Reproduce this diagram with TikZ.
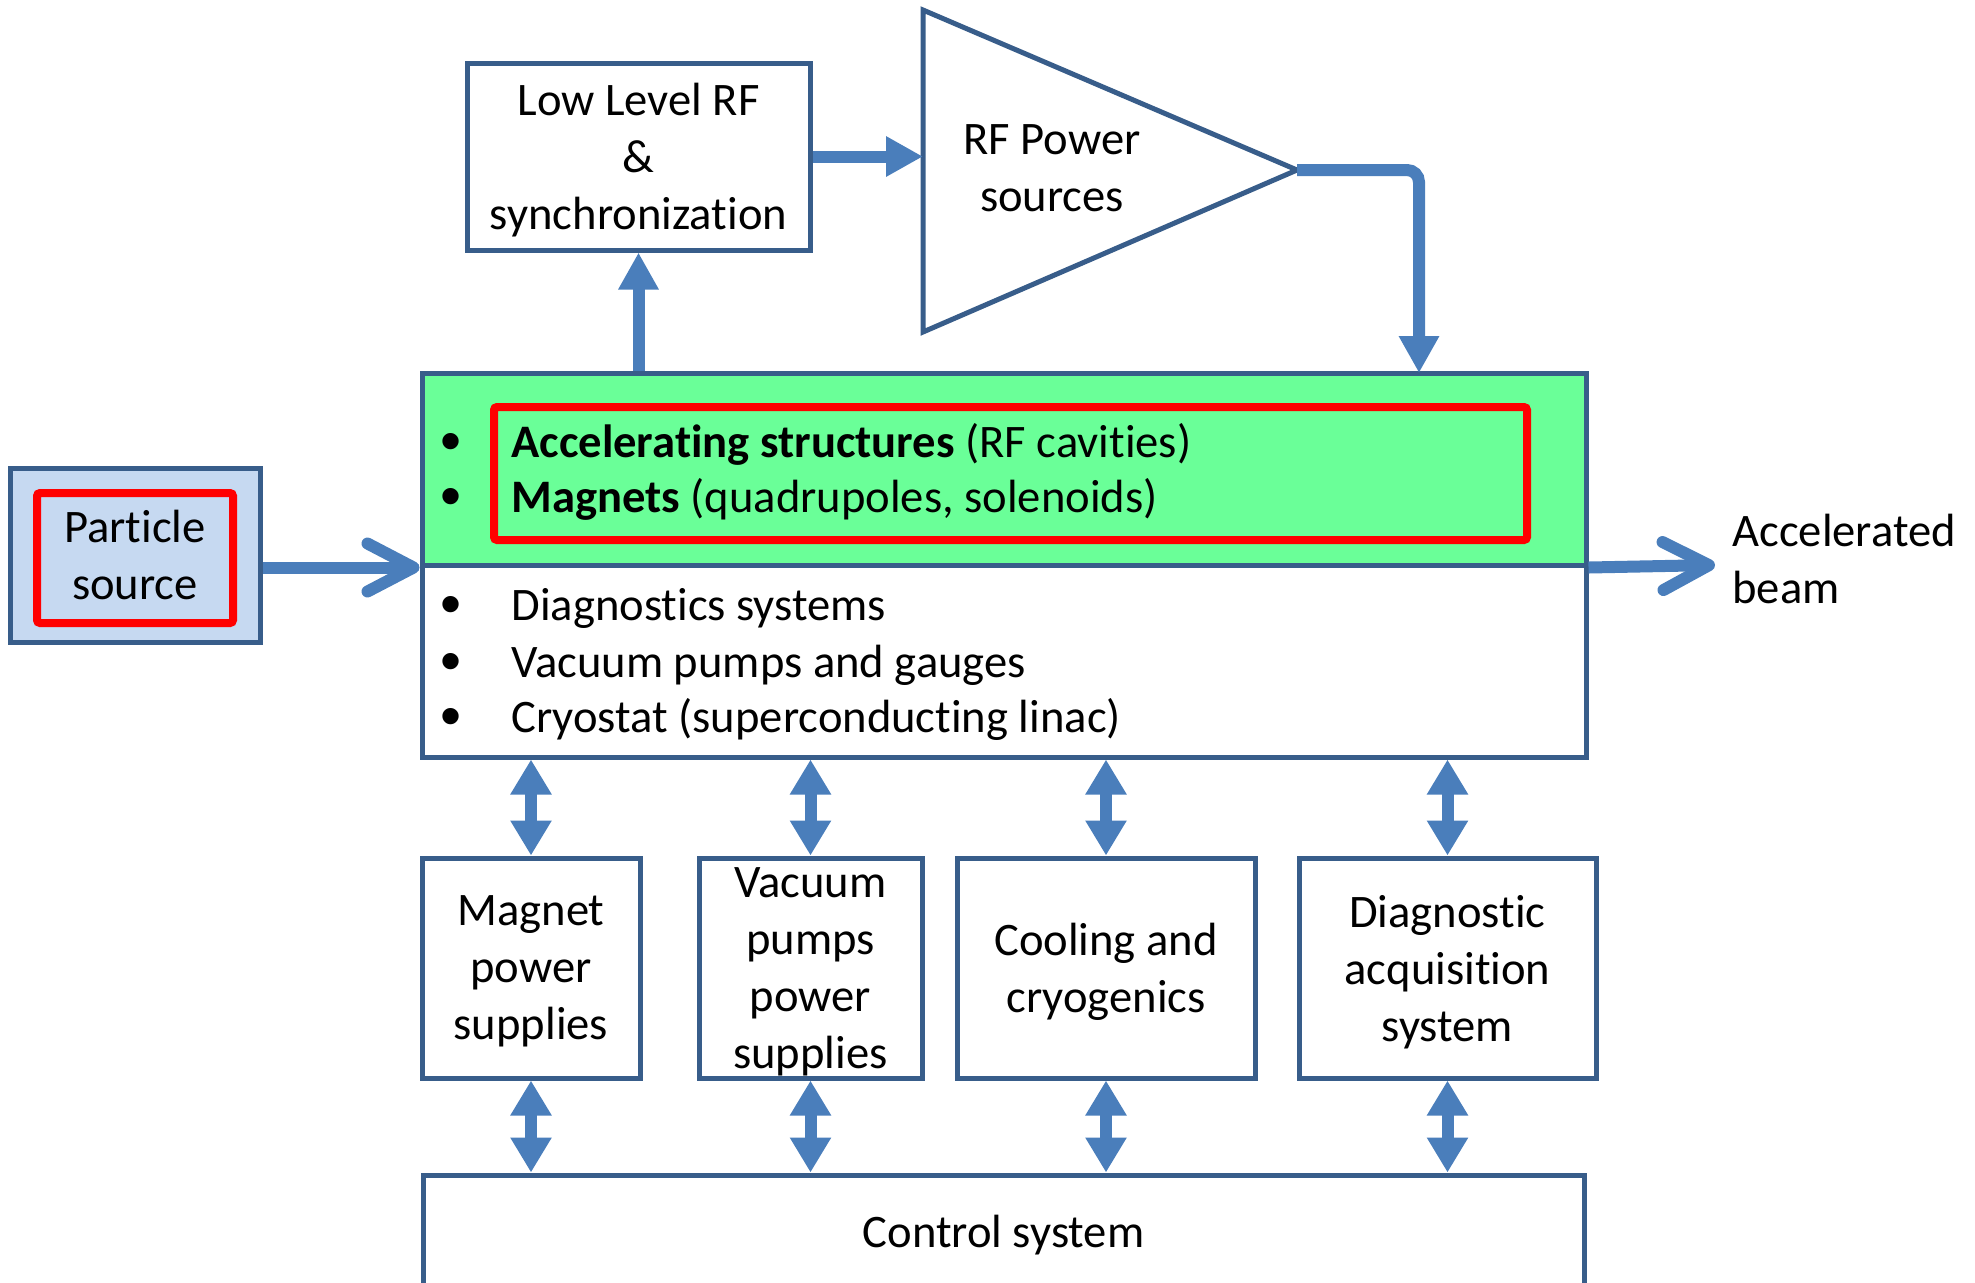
\documentclass[tikz,border=0pt]{standalone}
\usepackage{fontspec}
\setmainfont{Carlito}[Ligatures=NoCommon]
\newfontfamily\bulletfont{Liberation Sans}
\usetikzlibrary{arrows.meta}
\definecolor{boxline}{RGB}{56,93,138}
\definecolor{arrblue}{RGB}{74,126,187}
\definecolor{accgreen}{RGB}{106,255,152}
\definecolor{srcblue}{RGB}{198,217,241}
\definecolor{hired}{RGB}{255,0,0}
\tikzset{
  blockbox/.style={draw=boxline, line width=2.5pt, inner sep=0pt, align=center,
    text depth=0pt, font=\fontsize{23.3}{28.5}\selectfont},
  lowbox/.style={blockbox, minimum height=110pt, text depth=-3.5pt},
  redbox/.style={draw=hired, line width=4pt, rounded corners=1.5pt, inner sep=0pt},
  fatarrow/.style={draw=arrblue, line width=6pt, -{Triangle[length=18.5pt,width=19pt]}},
  dblarrow/.style={draw=arrblue, line width=6pt,
    {Triangle[length=17.5pt,width=19.5pt]}-{Triangle[length=17.5pt,width=19.5pt]}},
  beamarrow/.style={draw=arrblue, line width=6pt, -{Straight Barb[round,length=23pt,width=24pt]}},
  txt/.style={inner sep=0pt, font=\fontsize{23.3}{28.5}\selectfont},
  bul/.style={inner sep=0pt, font=\bulletfont\fontsize{30}{30}\selectfont, anchor=center},
}
\begin{document}
\begin{tikzpicture}[x=0.5pt,y=-0.5pt]
\useasboundingbox (0,0) rectangle (1975,1282);
\clip (0,0) rectangle (1975,1282);

% top blocks
\node[blockbox, minimum width=171.5pt, minimum height=93.5pt] (llrf) at (638.5,156.5)
  {Low Level RF\\\&\\synchronization};
\coordinate (trtop) at (923,10);
\coordinate (trbot) at (923,332);
\coordinate (apex) at (1297,170);
\draw[boxline, line width=2.5pt, line join=miter] (trtop) -- (apex) -- (trbot) -- cycle;
\node[txt, align=center, text depth=0pt] (rfp) at (1052,168) {RF Power\\sources};

% main box
\node[blockbox, fill=accgreen, minimum width=582pt, minimum height=96pt] (accel) at (1004,469) {};
\node[blockbox, minimum width=582pt, minimum height=96pt] (lower) at (1004,661) {};
\node[redbox, minimum width=516.5pt, minimum height=66.5pt] (accred) at (1010.5,473.5) {};

\node[bul] (b1) at (451,447) {•};
\node[bul] (b2) at (451,502) {•};
\node[bul] (b3) at (451,610) {•};
\node[bul] (b4) at (451,667) {•};
\node[bul] (b5) at (451,722) {•};
\node[txt, anchor=base west] (t1) at (511,457) {\textbf{Accelerating structures} (RF cavities)};
\node[txt, anchor=base west] (t2) at (511,512) {\textbf{Magnets} (quadrupoles, solenoids)};
\node[txt, anchor=base west] (t3) at (511,620) {Diagnostics systems};
\node[txt, anchor=base west] (t4) at (511,677) {Vacuum pumps and gauges};
\node[txt, anchor=base west] (t5) at (511,732) {Cryostat (superconducting linac)};

% particle source
\node[blockbox, fill=srcblue, minimum width=125pt, minimum height=87pt] (ps) at (135,555)
  {Particle\\source};
\node[redbox, minimum width=98pt, minimum height=65pt] (psred) at (135,558) {};

% accelerated beam
\coordinate (beamtip) at (1715,565);
\node[txt, anchor=west, align=left, text depth=0pt] (beam) at (1732,559) {Accelerated\\beam};

% lower boxes
\node[lowbox, minimum width=109pt] (mag) at (531,968)
  {Magnet\\power\\supplies};
\node[lowbox, minimum width=111.5pt] (vac) at (810.5,968)
  {Vacuum\\pumps\\power\\supplies};
\node[lowbox, minimum width=149pt] (cool) at (1106,968)
  {Cooling and\\cryogenics};
\node[lowbox, minimum width=148.5pt] (diag) at (1447.5,968)
  {Diagnostic\\acquisition\\system};
\node[blockbox, minimum width=580.5pt, minimum height=56pt] (ctrl) at (1003.5,1231)
  {Control system};

% arrows
\draw[fatarrow] (llrf.east) -- (llrf.east -| trtop);
\draw[fatarrow] (accel.north -| llrf.south) -- (llrf.south);
\coordinate (rfin) at (1419,373);
\draw[fatarrow, rounded corners=6pt] (apex) -| (rfin);
\draw[beamarrow] (ps.east |- accel.south west) -- (accel.south west);
\draw[beamarrow] (accel.south east) -- (beamtip);
\foreach \n in {mag,vac,cool,diag}{
  \draw[dblarrow] (lower.south -| \n.north) -- (\n.north);
  \draw[dblarrow] (\n.south) -- (\n.south |- ctrl.north);
}
\end{tikzpicture}
\end{document}
